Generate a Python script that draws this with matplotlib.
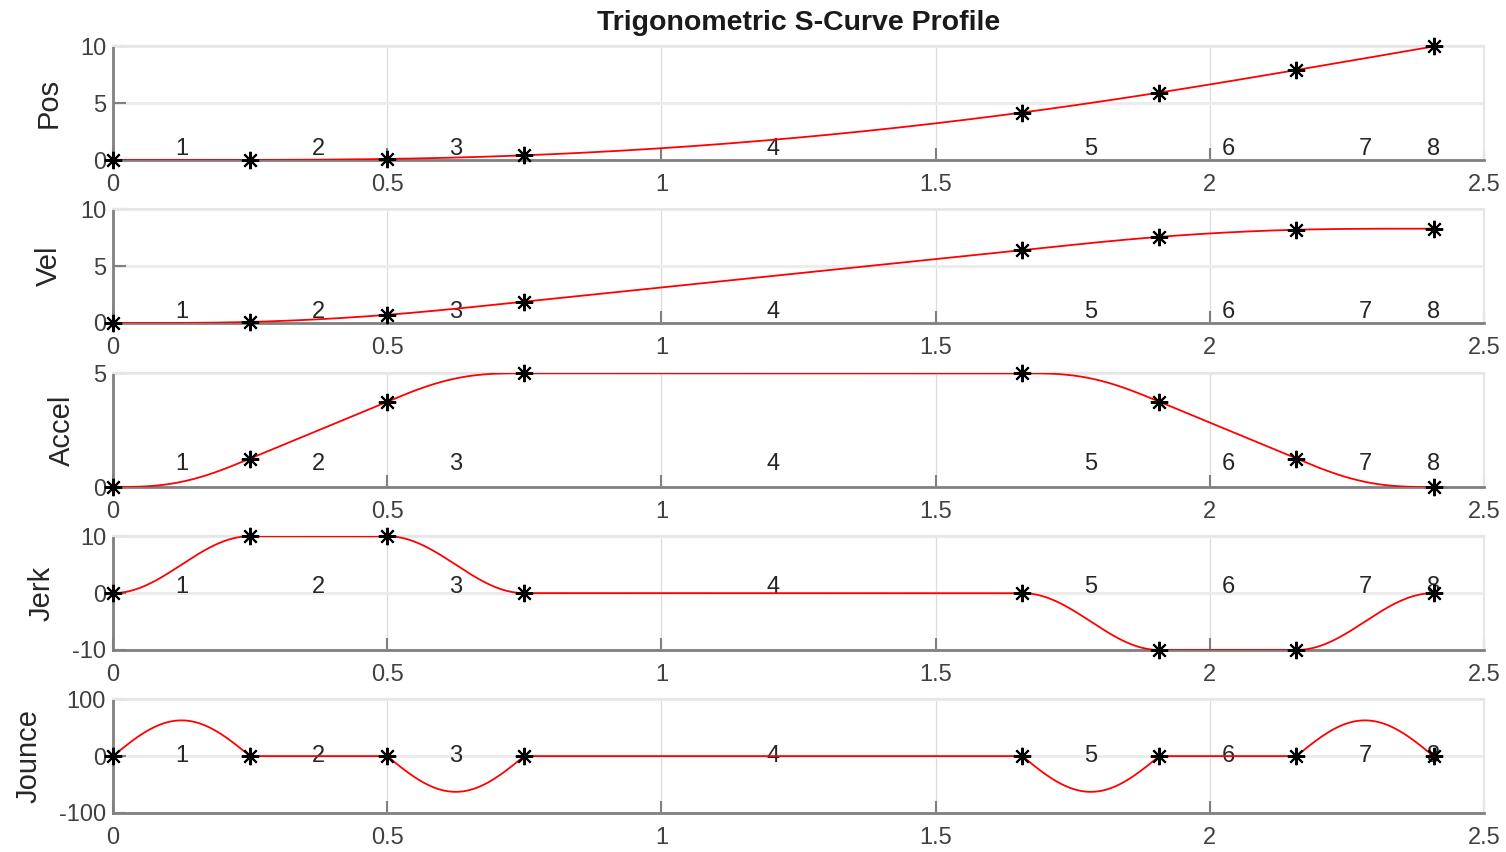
import matplotlib
matplotlib.use('Agg')
import matplotlib.pyplot as plt
import numpy as np

plt.rcParams['font.family'] = ['Liberation Sans', 'DejaVu Sans']
plt.rcParams['axes.unicode_minus'] = False

# phase boundaries (s) and jerk level at start / end of each phase
phase_edges = [0.0, 0.25, 0.5, 0.75, 1.658, 1.908, 2.158, 2.408]
jerk_start = [0, 10, 10, 0, 0, -10, -10]
jerk_end = [10, 10, 0, 0, -10, -10, 0]
phase_names = ['1', '2', '3', '4', '5', '6', '7', '8']

row_names = ['Pos', 'Vel', 'Accel', 'Jerk', 'Jounce']
row_ylims = [(0, 10), (0, 10), (0, 5), (-10, 10), (-100, 100)]
row_yticks = [[0, 5, 10], [0, 5, 10], [0, 5], [-10, 0, 10], [-100, 0, 100]]
x_ticks = [0, 0.5, 1, 1.5, 2, 2.5]
x_ticklabels = ['0', '0.5', '1', '1.5', '2', '2.5']


def cumtrapz(y, x):
    return np.concatenate([[0.0], np.cumsum(0.5 * (y[1:] + y[:-1]) * np.diff(x))])


# trig blend of the jerk inside every phase
t_parts, jerk_parts, jounce_parts = [], [], []
for k in range(len(jerk_start)):
    t0, t1 = phase_edges[k], phase_edges[k + 1]
    T = t1 - t0
    tt = np.linspace(t0, t1, 300)
    u = (tt - t0) / T
    dj = jerk_end[k] - jerk_start[k]
    t_parts.append(tt)
    jerk_parts.append(jerk_start[k] + dj * (1 - np.cos(np.pi * u)) / 2)
    jounce_parts.append(dj * np.pi / (2 * T) * np.sin(np.pi * u))

t = np.concatenate(t_parts)
jerk = np.concatenate(jerk_parts)
jounce = np.concatenate(jounce_parts)
accel = cumtrapz(jerk, t)
vel = cumtrapz(accel, t)
pos = cumtrapz(vel, t)

curves = [pos, vel, accel, jerk, jounce]
edge_idx = [0] + [300 * (k + 1) - 1 for k in range(len(jerk_start))]
label_x = [(phase_edges[k] + phase_edges[k + 1]) / 2 for k in range(len(jerk_start))] + [phase_edges[-1]]

fig = plt.figure(figsize=(15.06, 8.52), dpi=100)

bottoms = [0.8122, 0.6209, 0.4284, 0.2371, 0.0458]
for i in range(5):
    ax = fig.add_axes([0.075, bottoms[i], 0.9104, 0.1335])
    y = curves[i]
    ax.plot(t, y, color='red', lw=1.3, zorder=3)
    ax.plot(t[edge_idx], y[edge_idx], ls='none', marker=(8, 2, 0), ms=12.5,
            mec='black', mew=1.5, zorder=4, clip_on=False)
    for lx, name in zip(label_x, phase_names):
        ax.text(lx, 1, name, ha='center', va='center', fontsize=17, color='#262626', zorder=2)

    ax.set_xlim(0, 2.5)
    ax.set_ylim(*row_ylims[i])
    ax.set_xticks(x_ticks)
    ax.set_xticklabels(x_ticklabels)
    ax.set_yticks(row_yticks[i])
    ax.set_ylabel(row_names[i], fontsize=21, color='#262626', labelpad=12)

    ax.grid(axis='y', color='#ececec', lw=2.2, zorder=0)
    ax.grid(axis='x', color='#dcdcdc', lw=0.9, zorder=0)
    ax.set_axisbelow(True)
    for s in ['left', 'bottom']:
        ax.spines[s].set_color('#808080')
        ax.spines[s].set_linewidth(2)
    for s in ['top', 'right']:
        ax.spines[s].set_color('#e6e6e6')
        ax.spines[s].set_linewidth(1.5)
    ax.tick_params(direction='in', length=9, width=1.5, color='#808080',
                   labelsize=17, labelcolor='#404040')
    ax.tick_params(axis='x', pad=10)
    ax.tick_params(axis='y', pad=5)

    if i == 0:
        ax.set_title('Trigonometric S-Curve Profile', fontsize=20.5, fontweight='bold',
                     color='#1a1a1a', pad=12)

fig.savefig('out.png', dpi=100)
